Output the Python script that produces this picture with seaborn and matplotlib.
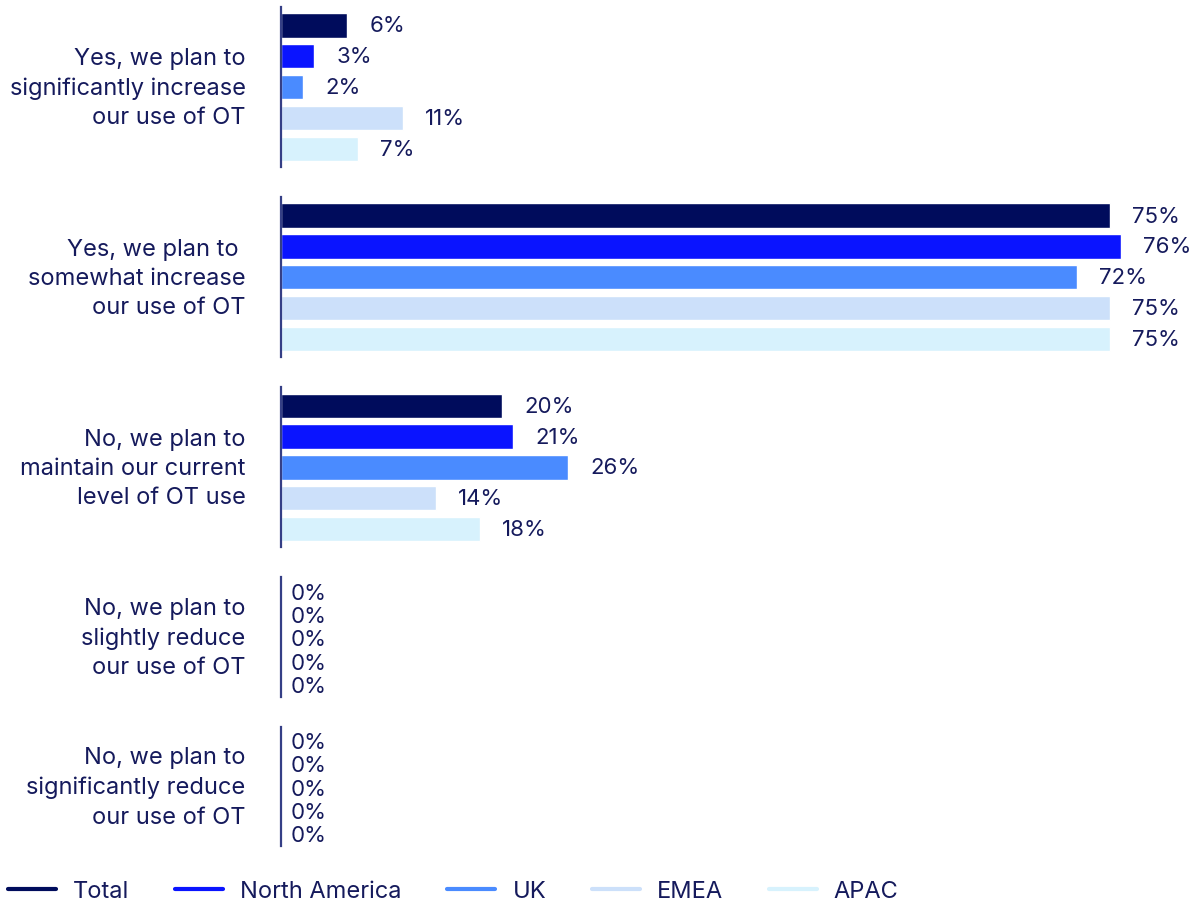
import numpy as np
import pandas as pd
import seaborn as sns
import matplotlib.pyplot as plt
from matplotlib.lines import Line2D

# Survey answers (one axis block per answer)
categories = [
    "Yes, we plan to\nsignificantly increase\nour use of OT",
    "Yes, we plan to \nsomewhat increase\nour use of OT",
    "No, we plan to\nmaintain our current\nlevel of OT use",
    "No, we plan to\nslightly reduce\nour use of OT",
    "No, we plan to\nsignificantly reduce\nour use of OT",
]
series = ["Total", "North America", "UK", "EMEA", "APAC"]

total = [6, 75, 20, 0, 0]
north_america = [3, 76, 21, 0, 0]
uk = [2, 72, 26, 0, 0]
emea = [11, 75, 14, 0, 0]
apac = [7, 75, 18, 0, 0]

colors = ["#000c5c", "#0a14ff", "#4a8bff", "#cce0fa", "#d7f2fd"]
text_color = "#151a5c"
spine_color = "#353f86"

values = np.array([total, north_america, uk, emea, apac])  # series x category

sns.set_theme(style="white")
plt.rcParams["font.family"] = ["Inter", "DejaVu Sans"]
plt.rcParams["text.color"] = text_color

W, H = 1196, 903
fig = plt.figure(figsize=(W / 100, H / 100), dpi=100)

x0 = 281            # axis position in pixels
px_per_pct = 11.05  # horizontal scale
ax_width = W - x0
xmax = ax_width / px_per_pct

top = 8
gap = 30
for ci, cat in enumerate(categories):
    vals = values[:, ci]
    has_bars = vals.max() > 0
    pitch = 30.8 if has_bars else 23.2
    above, below = (0.6, 0.6) if has_bars else (0.67, 0.47)
    height = (4 + above + below) * pitch
    ax = fig.add_axes([x0 / W, 1 - (top + height) / H, ax_width / W, height / H])
    top += height + gap

    df = pd.DataFrame({"series": series, "value": vals})
    sns.barplot(data=df, x="value", y="series", hue="series", order=series,
                hue_order=series, palette=colors, orient="h", width=0.79,
                dodge=False, legend=False, ax=ax, saturation=1)
    for cont, v in zip(ax.containers, vals):
        ax.bar_label(cont, labels=[f"{v}%"], padding=15.8 if v > 0 else 6.8,
                     fontsize=16, color=text_color, clip_on=False)

    ax.set_xlim(0, xmax)
    ax.set_ylim(4 + below, -above)
    ax.set_xlabel("")
    ax.set_ylabel("")
    ax.set_xticks([])
    ax.set_yticks([])
    for side in ["top", "right", "bottom"]:
        ax.spines[side].set_visible(False)
    ax.spines["left"].set_color(spine_color)
    ax.spines["left"].set_linewidth(1.6)

    ax.annotate(cat, xy=(0, 0.5), xycoords="axes fraction",
                xytext=(-25.5, -0.5), textcoords="offset points",
                ha="right", va="center", multialignment="right",
                fontsize=17, linespacing=1.43, color=text_color)

handles = [Line2D([], [], color=c, lw=3) for c in colors]
fig.legend(handles, series, loc="center left",
           bbox_to_anchor=(8 / W, 1 - 892 / H), ncol=5, frameon=False,
           fontsize=17, handlelength=2.04, handletextpad=0.72,
           columnspacing=1.93, borderpad=0, borderaxespad=0,
           labelcolor=text_color)

fig.savefig("out.png", dpi=100)
